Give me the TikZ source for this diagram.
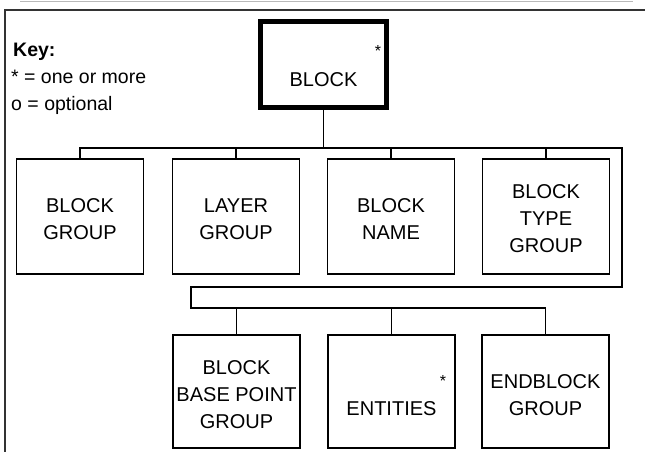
\documentclass[tikz,border=0pt]{standalone}
\usepackage{fontspec}
\setmainfont{Liberation Sans}
\begin{document}
\begin{tikzpicture}[x=1pt,y=-1pt,
  box/.style={draw, line width=1.9pt, minimum width=127pt, inner sep=0pt},
  rowone/.style={box, minimum height=115pt},
  rowtwo/.style={box, minimum height=113pt},
  lbl/.style={font=\fontsize{20}{27}\selectfont, align=center, inner sep=0pt},
  keytxt/.style={font=\fontsize{19.5}{26}\selectfont, inner sep=0pt, anchor=base west},
  star/.style={font=\fontsize{16}{18}\selectfont, inner sep=0pt, anchor=base},
  wire/.style={line width=1.9pt}]
\useasboundingbox (0,0) rectangle (645,452);
% frame
\draw[gray!55, line width=1.5pt] (20,1.5) -- (633,1.5);
\draw[black!80, line width=2.5pt] (5,452) -- (5,10) -- (645,10);
% key
\node[keytxt] (k1) at (13,57) {\textbf{Key:}};
\node[keytxt] (k2) at (11,84) {* = one or more};
\node[keytxt] (k3) at (11,110) {o = optional};
% top block
\node[draw, line width=5pt, minimum width=126pt, minimum height=85pt, inner sep=0pt] (top) at (323.5,64.5) {};
\node[lbl] (topt) at (323.5,80) {BLOCK};
\node[star] (tops) at (378,57) {*};
% row 1
\node[rowone] (g1) at (80,216.5) {};
\node[rowone] (g2) at (236,216.5) {};
\node[rowone] (g3) at (391,216.5) {};
\node[rowone] (g4) at (546,216.5) {};
\node[lbl] (g1t) at (80,219) {BLOCK\\GROUP};
\node[lbl] (g2t) at (236,219) {LAYER\\GROUP};
\node[lbl] (g3t) at (391,219) {BLOCK\\NAME};
\node[lbl] (g4t) at (546,219) {BLOCK\\TYPE\\GROUP};
% row 2
\node[rowtwo] (e1) at (236.5,391.5) {};
\node[rowtwo] (e2) at (391.5,391.5) {};
\node[rowtwo] (e3) at (545.5,391.5) {};
\node[lbl] (e1t) at (236.5,395) {BLOCK\\BASE POINT\\GROUP};
\node[lbl] (e2t) at (391.5,408.5) {ENTITIES};
\node[star] (e2s) at (443,386) {*};
\node[lbl] (e3t) at (545.5,395) {ENDBLOCK\\GROUP};
% connectors
\coordinate (busL) at (80,148);
\coordinate (busR) at (622,148);
\coordinate (retR) at (622,287);
\coordinate (retL) at (191,287);
\coordinate (bus2L) at (191,308);
\draw[wire] (top.south) -- (top.south |- busL);
\draw[wire] (g1.north) -- (busL) -- (busR) -- (retR) -- (retL) -- (bus2L) -- (e3.north |- bus2L) -- (e3.north);
\draw[wire] (g2.north) -- (g2.north |- busL);
\draw[wire] (g3.north) -- (g3.north |- busL);
\draw[wire] (g4.north) -- (g4.north |- busL);
\draw[wire] (e1.north) -- (e1.north |- bus2L);
\draw[wire] (e2.north) -- (e2.north |- bus2L);
\end{tikzpicture}
\end{document}
